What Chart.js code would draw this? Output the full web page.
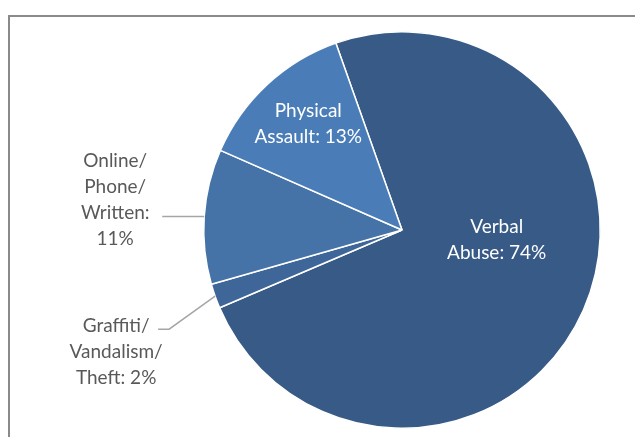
<!DOCTYPE html>
<html>
<head>
<meta charset="utf-8">
<script src="https://cdn.jsdelivr.net/npm/chart.js@4.4.0/dist/chart.umd.min.js"></script>
<style>
html,body{margin:0;padding:0;background:#fff;}
#wrap{position:relative;width:635px;height:437px;}
</style>
</head>
<body>
<div id="wrap"><canvas id="c" width="635" height="437"></canvas></div>
<script>
const categories = ['Verbal Abuse', 'Graffiti/Vandalism/Theft', 'Online/Phone/Written', 'Physical Assault'];
const values = [74, 2, 11, 13];
const labelLines = [
  ['Verbal', 'Abuse: 74%'],
  ['Graffiti/', 'Vandalism/', 'Theft: 2%'],
  ['Online/', 'Phone/', 'Written:', '11%'],
  ['Physical', 'Assault: 13%']
];
const colors = ['#375A86', '#3E6699', '#4573A7', '#4A7DB8'];

const FONT = '19px Lato, sans-serif';
const LH = 26;

// placement rules per slice (relative to each arc's geometry)
const placement = [
  {type:'inside', angleShift:-18, frac:0.48},
  {type:'elbow'},
  {type:'flat'},
  {type:'inside', angleShift:1.5, frac:0.715}
];

const framePlugin = {
  id:'frame',
  beforeDraw(chart){
    const ctx = chart.ctx;
    ctx.save();
    ctx.strokeStyle = '#8a8a8a';
    ctx.lineWidth = 2;
    ctx.strokeRect(9, 16, 700, 500);
    ctx.restore();
  }
};

const labelPlugin = {
  id:'pieLabels',
  afterDatasetsDraw(chart){
    const ctx = chart.ctx;
    const meta = chart.getDatasetMeta(0);
    ctx.save();
    ctx.font = FONT;
    ctx.textAlign = 'center';
    ctx.textBaseline = 'middle';
    meta.data.forEach((arc, i) => {
      const p = placement[i];
      const lines = labelLines[i];
      const mid = (arc.startAngle + arc.endAngle) / 2;
      const R = arc.outerRadius;
      if (p.type === 'inside') {
        const a = mid + p.angleShift * Math.PI / 180;
        const cx = arc.x + Math.cos(a) * R * p.frac;
        const cy = arc.y + Math.sin(a) * R * p.frac;
        ctx.fillStyle = '#ffffff';
        lines.forEach((t, k) => {
          ctx.fillText(t, cx, cy + (k - (lines.length - 1) / 2) * LH);
        });
      } else {
        const ex = arc.x + Math.cos(mid) * R;
        const ey = arc.y + Math.sin(mid) * R;
        ctx.strokeStyle = '#a6a6a6';
        ctx.lineWidth = 1.5;
        ctx.beginPath();
        let endX, endY, tx, ty;
        if (p.type === 'flat') {
          endX = ex - 42; endY = ey;
          ctx.moveTo(ex, ey); ctx.lineTo(endX, endY);
          tx = endX - 47; ty = endY - 17;
        } else {
          const elX = ex - 46, elY = ey + 33;
          endX = elX - 11; endY = elY;
          ctx.moveTo(ex, ey); ctx.lineTo(elX, elY); ctx.lineTo(endX, endY);
          tx = endX - 42; ty = endY + 23;
        }
        ctx.stroke();
        ctx.fillStyle = '#595959';
        lines.forEach((t, k) => {
          ctx.fillText(t, tx, ty + (k - (lines.length - 1) / 2) * LH);
        });
      }
    });
    ctx.restore();
  }
};

new Chart(document.getElementById('c'), {
  type:'pie',
  data:{
    labels: categories,
    datasets:[{
      data: values,
      backgroundColor: colors,
      borderColor:'#ffffff',
      borderWidth:1.5
    }]
  },
  options:{
    responsive:false,
    animation:false,
    rotation:-19.5,
    layout:{padding:{left:203, right:34, top:31, bottom:8}},
    plugins:{legend:{display:false}, tooltip:{enabled:false}}
  },
  plugins:[framePlugin, labelPlugin]
});
</script>
</body>
</html>
